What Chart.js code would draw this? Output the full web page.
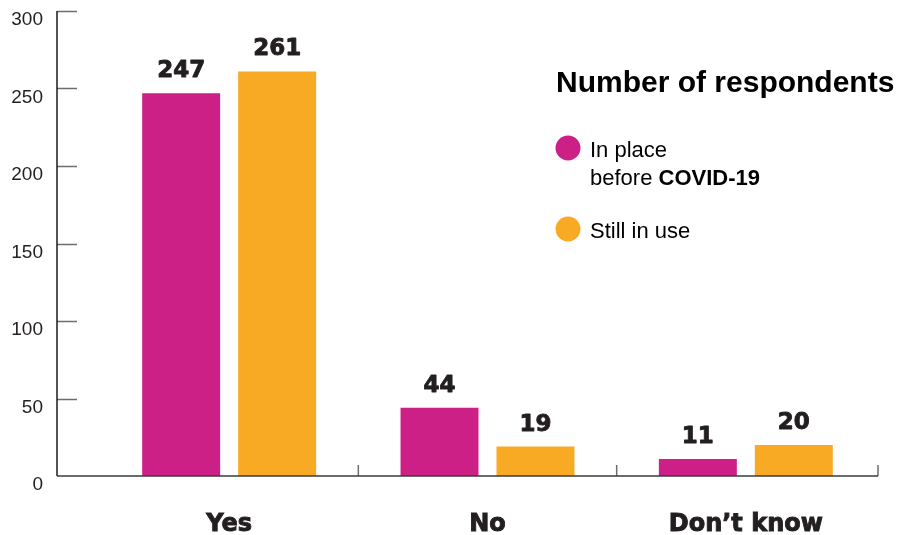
<!DOCTYPE html>
<html>
<head>
<meta charset="utf-8">
<script src="https://cdn.jsdelivr.net/npm/chart.js@4"></script>
<style>
  html, body { margin: 0; padding: 0; background: #ffffff; }
  #wrap { width: 899px; height: 535px; position: relative; }
</style>
</head>
<body>
<div id="wrap"><canvas id="c"></canvas></div>
<script>
// ---- data ----
const categories = ['Yes', 'No', 'Don\u2019t know'];
const inPlaceBeforeCovid = [247, 44, 11];
const stillInUse = [261, 19, 20];
const seriesLabels = ['In place before COVID-19', 'Still in use'];
const legendTitle = 'Number of respondents';
// legend text lines per series: [text, bold]
const legendLines = [
  [[['In place', false]], [['before ', false], ['COVID-19', true]]],
  [[['Still in use', false]]]
];
const yTicks = [0, 50, 100, 150, 200, 250, 300];

const MAGENTA = '#CD2087';
const ORANGE = '#F8AA25';
const INK = '#231f20';

const HEAVY = '"DejaVu Sans", "Liberation Sans", sans-serif';
const PLAIN = '"Liberation Sans", Arial, sans-serif';

const axesPlugin = {
  id: 'customAxes',
  afterDatasetsDraw(chart) {
    const { ctx, chartArea, scales: { x, y } } = chart;
    const axisX = chartArea.left - 43;
    const axisRight = chartArea.right + 3;
    const y0 = y.getPixelForValue(0);
    ctx.save();
    // y tick marks (inward)
    ctx.strokeStyle = '#6d6d6d';
    ctx.lineWidth = 1.5;
    yTicks.forEach(v => {
      if (v === 0) return;
      const py = Math.round(y.getPixelForValue(v)) + 0.5;
      ctx.beginPath();
      ctx.moveTo(axisX, py);
      ctx.lineTo(axisX + 20, py);
      ctx.stroke();
    });
    // x tick marks at category boundaries
    const n = categories.length;
    for (let i = 0; i < n; i++) {
      let bx;
      if (i < n - 1) bx = (x.getPixelForValue(i) + x.getPixelForValue(i + 1)) / 2;
      else bx = axisRight;
      ctx.beginPath();
      ctx.moveTo(bx, y0 - 11);
      ctx.lineTo(bx, y0);
      ctx.stroke();
    }
    // y axis line
    ctx.strokeStyle = '#1a1a1a';
    ctx.lineWidth = 1.5;
    ctx.beginPath();
    ctx.moveTo(axisX, y.getPixelForValue(300));
    ctx.lineTo(axisX, y0);
    ctx.stroke();
    // x axis line
    ctx.strokeStyle = '#3a3a3a';
    ctx.beginPath();
    ctx.moveTo(axisX, y0);
    ctx.lineTo(axisRight, y0);
    ctx.stroke();

    // value labels
    ctx.fillStyle = INK;
    ctx.strokeStyle = INK;
    ctx.lineWidth = 0.9;
    ctx.lineJoin = 'round';
    ctx.font = 'bold 23px ' + HEAVY;
    ctx.textAlign = 'center';
    ctx.textBaseline = 'alphabetic';
    chart.data.datasets.forEach((ds, di) => {
      const meta = chart.getDatasetMeta(di);
      meta.data.forEach((bar, i) => {
        ctx.fillText(String(ds.data[i]), bar.x, bar.y - 16);
        ctx.strokeText(String(ds.data[i]), bar.x, bar.y - 16);
      });
    });

    // legend
    ctx.textAlign = 'left';
    ctx.fillStyle = '#000';
    ctx.font = 'bold 30px ' + PLAIN;
    ctx.fillText(legendTitle, 556, 92);
    const itemY = [148, 229];
    chart.data.datasets.forEach((ds, di) => {
      const cy = itemY[di];
      ctx.fillStyle = ds.backgroundColor;
      ctx.beginPath();
      ctx.arc(568, cy, 12.5, 0, Math.PI * 2);
      ctx.fill();
      ctx.fillStyle = '#000';
      legendLines[di].forEach((line, li) => {
        let tx = 590;
        const by = cy + 8.5 + li * 28;
        line.forEach(([txt, bold]) => {
          ctx.font = (bold ? 'bold ' : '') + '22px ' + PLAIN;
          ctx.fillText(txt, tx, by);
          tx += ctx.measureText(txt).width;
        });
      });
    });
    ctx.restore();
  }
};

new Chart(document.getElementById('c'), {
  type: 'bar',
  data: {
    labels: categories,
    datasets: [
      { label: seriesLabels[0], data: inPlaceBeforeCovid, backgroundColor: MAGENTA,
        categoryPercentage: 0.743, barPercentage: 0.8125 },
      { label: seriesLabels[1], data: stillInUse, backgroundColor: ORANGE,
        categoryPercentage: 0.743, barPercentage: 0.8125 }
    ]
  },
  options: {
    responsive: true,
    maintainAspectRatio: false,
    animation: false,
    layout: { padding: { top: 11, right: 24, left: 0, bottom: 0 } },
    plugins: { legend: { display: false }, tooltip: { enabled: false } },
    scales: {
      x: {
        offset: true,
        grid: { display: false, drawTicks: false },
        border: { display: false },
        ticks: {
          padding: 34,
          color: INK,
          textStrokeColor: INK,
          textStrokeWidth: 0.9,
          font: { family: HEAVY, weight: 'bold', size: 24 }
        },
        afterFit(scale) { scale.height = 59; scale.paddingLeft = 0; scale.paddingRight = 0; }
      },
      y: {
        min: 0, max: 300,
        grid: { display: false, drawTicks: false },
        border: { display: false },
        ticks: {
          stepSize: 50,
          padding: 57,
          labelOffset: 9,
          color: INK,
          font: { family: PLAIN, size: 19 }
        },
        afterFit(scale) { scale.width = 100; scale.paddingTop = 0; scale.paddingBottom = 0; }
      }
    }
  },
  plugins: [axesPlugin]
});
</script>
</body>
</html>
